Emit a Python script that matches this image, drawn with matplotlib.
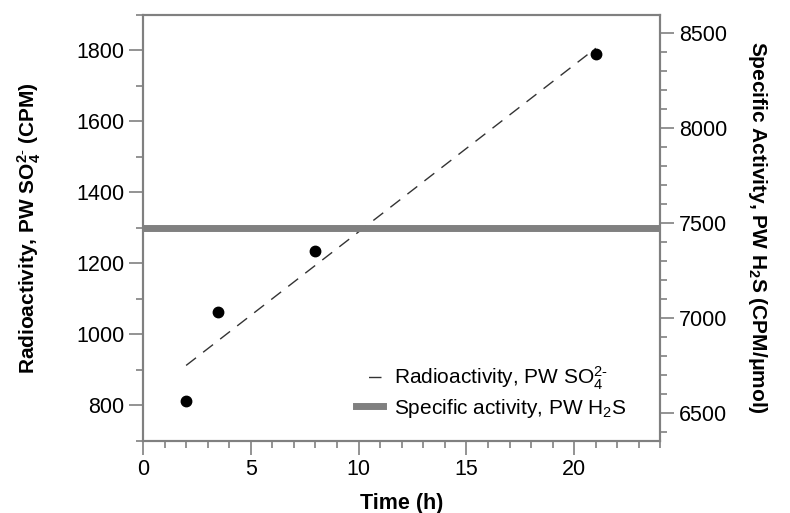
import numpy as np
from matplotlib import pyplot as plt
from matplotlib.ticker import MultipleLocator

plt.rcParams['font.family'] = ['Liberation Sans', 'DejaVu Sans']
plt.rcParams['mathtext.fontset'] = 'custom'
plt.rcParams['mathtext.rm'] = 'Liberation Sans'
plt.rcParams['mathtext.bf'] = 'Liberation Sans:bold'

# Measured radioactivity in pore water sulfate.
time_h = [2, 3.5, 8, 21]
cpm = [811, 1064, 1234, 1790]

# Linear fit, end points.
fit_x = [2, 21]
fit_y = [912, 1806]

# Specific activity of pore water H2S (constant).
spec_act = 7477

gray = '#808080'
so4 = r'SO$\mathregular{_4^{2\text{-}}}$'

fig = plt.figure(figsize=(7.9, 5.13), dpi=100)
ax1 = fig.add_axes([0.181, 0.141, 0.655, 0.830])
ax2 = ax1.twinx()

ax1.plot(time_h, cpm, 'o', color='black', markersize=7.5, zorder=5)
l1, = ax1.plot(fit_x, fit_y, color='#333333', lw=1.0,
               dashes=(9, 6.5), label='Radioactivity, PW ' + so4)
l2 = ax2.axhline(spec_act, color=gray, lw=5,
                 label=r'Specific activity, PW H$\mathregular{_2}$S')

ax1.set_xlim(0, 24)
ax1.set_ylim(700, 1900)
ax2.set_ylim(6355, 8597)

ax1.xaxis.set_major_locator(MultipleLocator(5))
ax1.xaxis.set_minor_locator(MultipleLocator(1))
ax1.yaxis.set_major_locator(MultipleLocator(200))
ax1.yaxis.set_minor_locator(MultipleLocator(100))
ax2.yaxis.set_major_locator(MultipleLocator(500))
ax2.yaxis.set_minor_locator(MultipleLocator(100))

for ax in (ax1, ax2):
    for s in ax.spines.values():
        s.set_color(gray)
        s.set_linewidth(1.5)
    ax.tick_params(which='major', length=10, width=1.2, color=gray,
                   labelsize=15.5, labelcolor='black', direction='out')
    ax.tick_params(which='minor', length=5, width=1.2, color=gray,
                   direction='out')

ax1.set_xlabel('Time (h)', fontsize=15.5, fontweight='bold', labelpad=9)
ax1.set_ylabel('Radioactivity, PW ' + so4 + ' (CPM)',
               fontsize=15, fontweight='bold', labelpad=24)
ax2.set_ylabel(r'Specific Activity, PW H$\mathregular{_2}$S (CPM/$\mathregular{\mu}$mol)',
               fontsize=15, fontweight='bold', rotation=270, labelpad=30)

leg = ax1.legend(handles=[l1, l2], loc='lower right', bbox_to_anchor=(0.97, 0.005),
                 frameon=False, fontsize=15, handlelength=1.3, handletextpad=0.5,
                 labelspacing=0.25)
# legend shows a single short dash at the right end of the handle
leg.legend_handles[0].set_linestyle((0, (0, 9, 9, 20)))

plt.savefig('out.png', dpi=100)
